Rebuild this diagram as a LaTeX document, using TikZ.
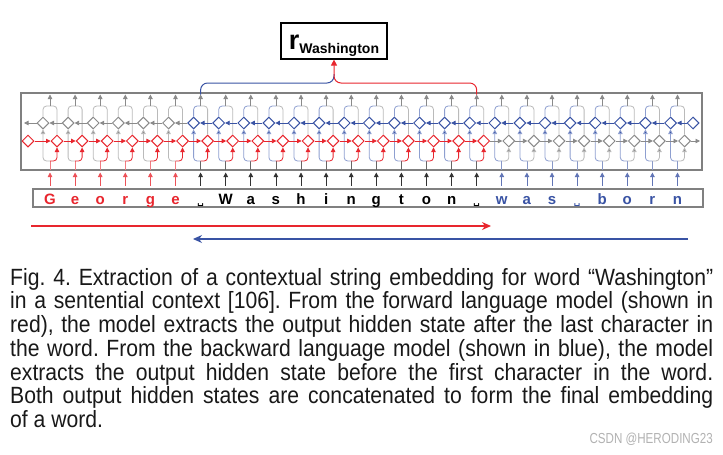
\documentclass[tikz,border=0pt]{standalone}
\usepackage{fontspec}
\setmainfont{Liberation Sans}
\newfontfamily\symfont{DejaVu Sans}
\newfontfamily\capfont[FakeStretch=0.9]{Liberation Sans}
\newfontfamily\wmfont[FakeStretch=0.8]{Liberation Sans}
\usepackage{tikz}
\usetikzlibrary{shapes.geometric,arrows.meta,calc}
\definecolor{fwd}{HTML}{E8262E}
\definecolor{bwd}{HTML}{3953A4}
\definecolor{fwdlt}{HTML}{F28A8E}
\definecolor{bwdlt}{HTML}{8E9FD0}
\definecolor{cell}{HTML}{8A8A8A}
\definecolor{wire}{HTML}{BABABA}
\definecolor{frame}{HTML}{808080}
\newcommand{\spc}{{\symfont\fontsize{9}{9}\selectfont ␣}}
\tikzset{
  dia/.style={diamond,draw,fill=white,inner sep=0pt,minimum size=12pt,line width=1pt},
  tip/.style={-{Triangle[length=4.5pt,width=4.5pt]}},
  wr/.style={line width=0.8pt,rounded corners=3.5pt},
  chr/.style={anchor=base,inner sep=0pt,text height=18pt,text depth=0pt,
    font=\fontsize{15}{15}\selectfont\bfseries},
  frm/.style={draw=frame,line width=1.2pt,inner sep=0pt},
  bigarr/.style={line width=1.3pt,-{Stealth[length=9pt,width=8pt]}},
}
\begin{document}
\begin{tikzpicture}[x=1pt,y=-1pt]
  \useasboundingbox[fill=white] (0,0) rectangle (723,455);
  \node[frm,minimum width=681pt,minimum height=77pt] (lstm) at (361.5,131.5) {};
  \node[frm,minimum width=670pt,minimum height=18pt] (seq) at (368,198) {};
  \node[draw=black,line width=1.2pt,minimum width=106pt,minimum height=36pt,inner sep=0pt,
    text height=17pt,text depth=1pt] (rw) at (334,41)
    {\fontsize{27}{27}\selectfont\bfseries r\raisebox{-4pt}{\fontsize{14}{14}\selectfont Washington}};
  \foreach \i/\ch in {0/G,1/e,2/o,3/r,4/g,5/e,6/\spc,7/W,8/a,9/s,10/h,11/i,12/n,13/g,14/t,15/o,16/n,
      17/\spc,18/w,19/a,20/s,21/\spc,22/b,23/o,24/r,25/n}{
    \pgfmathsetmacro\xx{50+25.1*\i}
    \ifnum\i<6\relax \def\bc{cell}\def\bl{wire}\def\ic{fwd}\else \def\bc{bwd}\def\bl{bwdlt}\def\ic{black}\fi
    \ifnum\i<18\relax \def\fc{fwd}\def\fl{fwd}\else \def\fc{cell}\def\fl{wire}\def\ic{bwd}\fi
    \node[dia,draw=\bc] (b\i) at (\xx-7,123) {};
    \node[dia,draw=\fc] (f\i) at (\xx+7,141) {};
    \node[chr,text=\ic] (c\i) at (\xx,204) {\ch};
    \coordinate (ot\i) at (\xx,94.5);
    \coordinate (om\i) at (\xx,106);
    \coordinate (ia\i) at (\xx,172.5);
    \coordinate (ib\i) at (\xx,170);
    \coordinate (fk\i) at (\xx,161);
    \draw[wr,\bl] (b\i.north) |- (om\i);
    \draw[wr,wire] (f\i.north) |- (om\i);
    \draw[wr,tip,cell] (om\i) -- (ot\i);
    \draw[wr,tip,\ic!80] (c\i.north) -- (ia\i);
    \draw[wr,\ic!60] (ib\i) -- (fk\i);
    \draw[wr,\bl,-{Triangle[length=4.5pt,width=4.5pt,fill=\bc]}] (fk\i) -| (b\i.south);
    \draw[wr,\fl,-{Triangle[length=4.5pt,width=4.5pt,fill=\fc]}] (fk\i) -| (f\i.south);
  }
  \foreach \i in {1,...,25}{
    \pgfmathtruncatemacro\j{\i-1}
    \ifnum\i<18\relax \def\fc{fwd}\else \def\fc{cell}\fi
    \ifnum\j<6\relax \def\bc{cell}\else \def\bc{bwd}\fi
    \draw[wr,tip,\fc] (f\j.east) -- (f\i.west);
    \draw[wr,tip,\bc] (b\i.west) -- (b\j.east);
  }
  \node[dia,draw=fwd] (fini) at (28,141) {};
  \node[dia,draw=bwd] (bfin) at (693,123) {};
  \coordinate (bout) at (24,123);
  \coordinate (fout) at (700,141);
  \draw[wr,tip,fwd] (fini) -- (f0);
  \draw[wr,tip,bwd] (bfin) -- (b25);
  \draw[wr,tip,cell] (b0) -- (bout);
  \draw[wr,tip,cell] (f25) -- (fout);
  \coordinate (jn) at (rw.south |- 0,83);
  \draw[bwd,line width=1pt,rounded corners=7pt] (ot6) |- (jn) -- ++(0,-9);
  \draw[fwd,line width=1pt,rounded corners=7pt,-{Triangle[length=6pt,width=6pt]}] (ot17) |- (jn) -- (rw.south);
  \coordinate (fa) at (31,226);
  \coordinate (fb) at (491,226);
  \coordinate (ba) at (688,239);
  \coordinate (bb) at (193,239);
  \draw[bigarr,fwd] (fa) -- (fb);
  \draw[bigarr,bwd] (ba) -- (bb);
  \node[anchor=north west,inner sep=0pt,text width=703pt,align=justify,text=black!90,
    font=\capfont\fontsize{23.5}{23.7}\selectfont] (cap) at (10,268)
    {\frenchspacing\tolerance=10000 Fig. 4. Extraction of a contextual string embedding for word “Washington”\linebreak
     in a sentential context [106]. From the forward language model (shown in\linebreak
     red), the model extracts the output hidden state after the last character in\linebreak
     the word. From the backward language model (shown in blue), the model\linebreak
     extracts the output hidden state before the first character in the word.\linebreak
     Both output hidden states are concatenated to form the final embedding\linebreak
     of a word.};
  \node[anchor=base east,inner sep=0pt,text=black!30,font=\wmfont\fontsize{14.5}{14.5}\selectfont]
    (wm) at (713,443) {CSDN @HERODING23};
\end{tikzpicture}
\end{document}
